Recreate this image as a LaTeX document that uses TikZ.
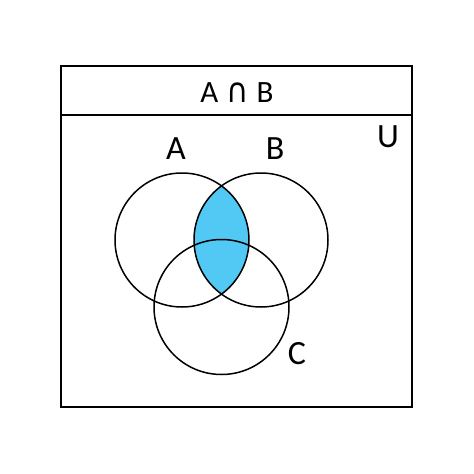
\documentclass[tikz,border=0pt]{standalone}
\usepackage{fontspec}
\setmainfont{Carlito}
\newfontfamily\symfont{DejaVu Sans}
\definecolor{lensblue}{RGB}{82,200,245}
\begin{document}
\begin{tikzpicture}[x=1pt,y=-1pt,
  frame/.style={draw=black,line width=2.2pt},
  setcircle/.style={draw=black,line width=1.5pt},
  lbl/.style={font=\fontsize{34}{34}\selectfont,anchor=base,inner sep=0pt}]
\useasboundingbox (0,0) rectangle (474,474);
\fill[white] (0,0) rectangle (474,474);
% lens fill
\begin{scope}
  \clip (182,240) circle (67);
  \fill[lensblue] (261,240) circle (67);
\end{scope}
\draw[setcircle] (182,240) circle (67);
\draw[setcircle] (261,240) circle (67);
\draw[setcircle] (221.5,307) circle (67.5);
% frame
\draw[frame] (61,66) rectangle (412,407);
\coordinate (hl) at (61,115);
\coordinate (hr) at (412,115);
\draw[frame] (hl) -- (hr);
% texts
\node[font=\fontsize{31}{31}\selectfont,anchor=base,inner sep=0pt] (title) at (237,102) {A\hspace{8pt}{\symfont\fontsize{34}{34}\selectfont\scalebox{0.9}[1.0]{∩}}\hspace{8pt}B};
\node[lbl] (la) at (176,159) {A};
\node[lbl] (lb) at (275,159) {B};
\node[lbl] (lu) at (388,147) {U};
\node[lbl] (lc) at (297,364) {C};
\end{tikzpicture}
\end{document}
